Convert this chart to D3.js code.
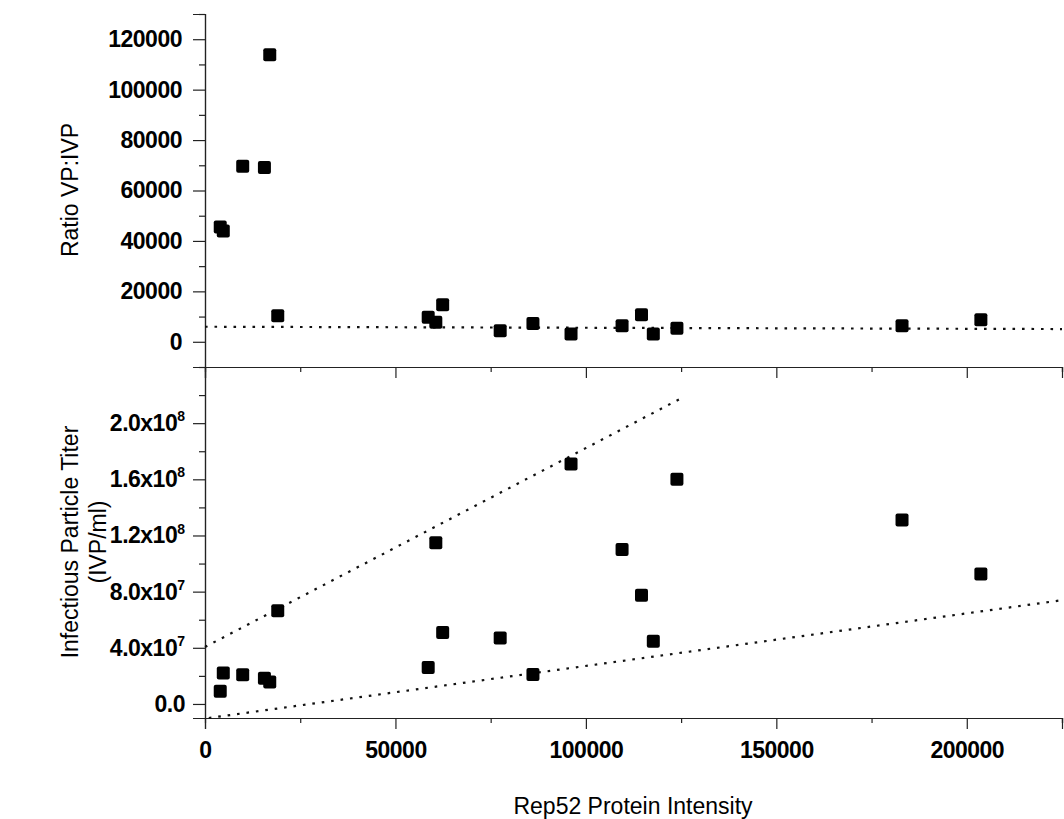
<!DOCTYPE html>
<html>
<head>
<meta charset="utf-8">
<script src="https://cdn.jsdelivr.net/npm/d3@7/dist/d3.min.js"></script>
<style>
  html, body { margin: 0; padding: 0; background: #fff; }
  svg { display: block; }
  .tick text { font-family: "Liberation Sans", Arial, sans-serif; font-weight: bold; font-size: 23px; letter-spacing: -0.5px; fill: #000; }
  .title { font-family: "Liberation Sans", Arial, sans-serif; font-size: 23px; fill: #000; }
</style>
</head>
<body>
<svg id="chart" width="1064" height="819"></svg>
<script>
// Rep52 protein intensity per sample (shared x for both panels)
const intensity = [4000, 4800, 9900, 15600, 17000, 19100, 58600, 60600, 62400,
                   77500, 86100, 96100, 109500, 114600, 117700, 123900, 183000, 203700];
// Ratio of viral particles to infectious viral particles
const ratio = [45500, 43900, 69600, 69100, 113800, 10300, 9700, 7700, 14700,
               4400, 7300, 3100, 6400, 10700, 3100, 5400, 6400, 8700];
// Infectious particle titer (IVP/ml)
const titer = [9.1e6, 2.2e7, 2.08e7, 1.84e7, 1.56e7, 6.63e7, 2.59e7, 1.149e8, 5.09e7,
               4.70e7, 2.09e7, 1.709e8, 1.101e8, 7.75e7, 4.46e7, 1.601e8, 1.311e8, 9.25e7];

// Trend / envelope lines (end points)
const ratioFitX = [0, 225000];
const ratioFitY = [5970, 5050];
const upperBoundX = [0, 125500];
const upperBoundY = [4.06e7, 2.184e8];
const lowerBoundX = [1000, 225000];
const lowerBoundY = [-1.0e7, 7.39e7];

// Tick values and labels
const xTicks = [0, 50000, 100000, 150000, 200000];
const xMinorTicks = [25000, 75000, 125000, 175000, 225000];
const ratioTicks = [0, 20000, 40000, 60000, 80000, 100000, 120000];
const ratioMinorTicks = [-10000, 10000, 30000, 50000, 70000, 90000, 110000, 130000];
const titerTicks = [0, 4e7, 8e7, 1.2e8, 1.6e8, 2.0e8];
const titerTickMantissa = ["0.0", "4.0x10", "8.0x10", "1.2x10", "1.6x10", "2.0x10"];
const titerTickExponent = ["", "7", "7", "8", "8", "8"];
const titerMinorTicks = [2e7, 6e7, 1.0e8, 1.4e8, 1.8e8, 2.2e8];

const svg = d3.select("#chart");

const x = d3.scaleLinear().domain([0, 225000]).range([205, 1062]);
const yTop = d3.scaleLinear().domain([-10000, 130000]).range([367, 14]);
const yBot = d3.scaleLinear().domain([-1e7, 2.4e8]).range([718, 367]);

function styleAxis(g) {
  g.select(".domain").attr("stroke", "#222").attr("stroke-width", 1.2);
  g.selectAll(".tick line").attr("stroke", "#222").attr("stroke-width", 1.2);
}

// ---- Left axes ----
const gTopMinor = svg.append("g").attr("transform", "translate(205,0)")
  .call(d3.axisLeft(yTop).tickValues(ratioMinorTicks).tickSize(6).tickFormat(""));
styleAxis(gTopMinor);
const gTop = svg.append("g").attr("transform", "translate(205,0)")
  .call(d3.axisLeft(yTop).tickValues(ratioTicks).tickSize(12).tickPadding(11)
        .tickFormat(d3.format("d")));
styleAxis(gTop);

const gBotMinor = svg.append("g").attr("transform", "translate(205,0)")
  .call(d3.axisLeft(yBot).tickValues(titerMinorTicks).tickSize(6).tickFormat(""));
styleAxis(gBotMinor);
const gBot = svg.append("g").attr("transform", "translate(205,0)")
  .call(d3.axisLeft(yBot).tickValues(titerTicks).tickSize(12).tickPadding(20).tickFormat(""));
styleAxis(gBot);
gBot.selectAll(".tick text").each(function(d, i) {
  const t = d3.select(this).text(null).attr("x", -20);
  t.append("tspan").text(titerTickMantissa[i]);
  if (titerTickExponent[i]) {
    t.append("tspan").text(titerTickExponent[i])
      .attr("dy", "-0.7em").attr("font-size", "14px").attr("letter-spacing", "0");
  }
});

// ---- Horizontal axes (shared line between panels, and bottom) ----
[367, 718].forEach((yPos, k) => {
  const gm = svg.append("g").attr("transform", `translate(0,${yPos})`)
    .call(d3.axisBottom(x).tickValues(xMinorTicks).tickSize(5).tickFormat(""));
  styleAxis(gm);
  const ga = svg.append("g").attr("transform", `translate(0,${yPos})`)
    .call(d3.axisBottom(x).tickValues(xTicks).tickSize(11).tickPadding(13)
          .tickFormat(k === 1 ? d3.format("d") : () => ""));
  styleAxis(ga);
});

// ---- Dotted lines ----
function dotted(xs, ys, yScale) {
  const pts = xs.map((v, i) => [v, ys[i]]);
  svg.append("path")
    .attr("d", d3.line().x(d => x(d[0])).y(d => yScale(d[1]))(pts))
    .attr("fill", "none")
    .attr("stroke", "#111")
    .attr("stroke-width", 2.2)
    .attr("stroke-dasharray", "2.6 6.9");
}
dotted(ratioFitX, ratioFitY, yTop);
dotted(upperBoundX, upperBoundY, yBot);
dotted(lowerBoundX, lowerBoundY, yBot);

// ---- Square markers ----
const S = 13;
svg.append("g").selectAll("rect").data(intensity).join("rect")
  .attr("x", d => x(d) - S / 2)
  .attr("y", (d, i) => yTop(ratio[i]) - S / 2)
  .attr("width", S).attr("height", S).attr("rx", 2).attr("fill", "#000");
svg.append("g").selectAll("rect").data(intensity).join("rect")
  .attr("x", d => x(d) - S / 2)
  .attr("y", (d, i) => yBot(titer[i]) - S / 2)
  .attr("width", S).attr("height", S).attr("rx", 2).attr("fill", "#000");

// ---- Axis titles ----
svg.append("text").attr("class", "title")
  .attr("x", 633).attr("y", 814).attr("text-anchor", "middle")
  .text("Rep52 Protein Intensity");
svg.append("text").attr("class", "title")
  .attr("transform", "translate(78,190) rotate(-90)").attr("text-anchor", "middle")
  .text("Ratio VP:IVP");
svg.append("text").attr("class", "title")
  .attr("transform", "translate(78,542) rotate(-90)").attr("text-anchor", "middle")
  .text("Infectious Particle Titer");
svg.append("text").attr("class", "title")
  .attr("transform", "translate(106,542) rotate(-90)").attr("text-anchor", "middle")
  .text("(IVP/ml)");
</script>
</body>
</html>
